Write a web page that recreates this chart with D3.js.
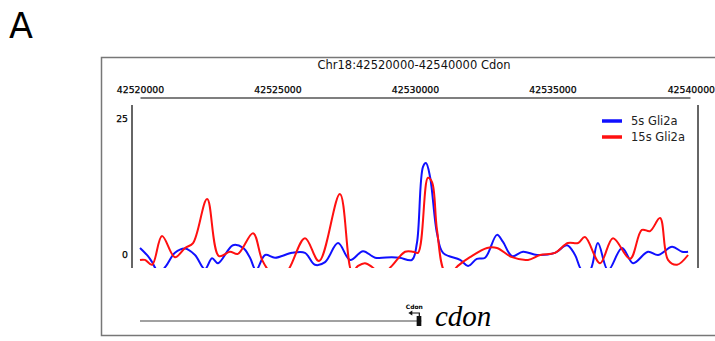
<!DOCTYPE html>
<html>
<head>
<meta charset="utf-8">
<script src="https://cdnjs.cloudflare.com/ajax/libs/d3/7.8.5/d3.min.js"></script>
<style>
  body { margin: 0; background: #fff; }
  svg { display: block; }
</style>
</head>
<body>
<svg id="chart" width="715" height="341"></svg>
<script>
// region + ticks
const regionStart = 42520000;
const regionEnd = 42540000;
const xTicks = [42520000, 42525000, 42530000, 42535000, 42540000];
const yTicks = [0, 25];

// 5s Gli2a (blue)
const pos5s = [42520000, 42520290, 42520440, 42520620, 42520800, 42520950, 42521270, 42521640,
  42522000, 42522360, 42522620, 42522840, 42523380, 42523750, 42524000, 42524220, 42524550,
  42524910, 42525530, 42526000, 42526360, 42526730, 42527200, 42527640, 42528110, 42528550,
  42529160, 42529450, 42529890, 42530070, 42530290, 42530400, 42530550, 42530800, 42531020,
  42531640, 42531930, 42532250, 42532550, 42532980, 42533200, 42533530, 42533930, 42534440,
  42535090, 42535530, 42535820, 42536070, 42536360, 42536650, 42537020, 42537530, 42537930,
  42538470, 42538840, 42539350, 42539710, 42539930];
const val5s = [1.3, -0.2, -1.3, -2.8, -2.8, -2.0, 0.4, 1.2,
  0.0, -2.6, -0.6, -1.5, 1.8, 1.3, -0.5, -2.8, 0.0,
  -0.5, 0.4, 0.4, -1.8, -1.3, 2.2, -0.9, 0.7, -0.5,
  -0.4, -0.5, -0.9, 2.2, 16.2, 16.9, 14.3, 4.0, 0.4,
  -0.9, -2.0, -0.7, -0.5, 3.7, 2.4, -0.2, 0.6, 0.0,
  0.4, 1.8, 0.0, -2.8, -2.8, 2.2, -2.8, 1.3, -1.5,
  0.6, 0.0, 1.5, 0.6, 0.6];

// 15s Gli2a (red)
const pos15s = [42520000, 42520180, 42520440, 42520800, 42521270, 42521640, 42521930, 42522440,
  42522870, 42523270, 42523560, 42524110, 42524440, 42524730, 42525090, 42525380, 42526000,
  42526510, 42527270, 42527710, 42527930, 42528180, 42528440, 42528650, 42528910, 42529160,
  42529640, 42529930, 42530110, 42530470, 42530620, 42530800, 42531090, 42531350, 42531560,
  42532000, 42532620, 42532980, 42533530, 42534110, 42534550, 42535090, 42535560, 42535930,
  42536180, 42536730, 42537200, 42537820, 42538250, 42538550, 42538910, 42539200, 42539530,
  42539930];
const val15s = [-0.9, -0.9, -1.8, 3.5, -0.4, 1.3, 2.2, 10.3,
  -0.2, 0.6, 0.2, 4.0, -0.9, -3.1, -3.7, -2.8, 3.1,
  -1.1, 11.2, -3.1, -2.0, -1.5, -2.2, -3.1, -3.1, -2.0,
  0.6, 0.6, 0.4, 14.2, 13.4, 4.6, -3.1, -3.1, -2.0,
  -0.4, 1.3, 1.3, -0.4, -0.9, 0.0, 0.4, 2.2, 2.2,
  3.3, -1.5, 3.1, -0.7, 4.6, 4.4, 6.8, -0.9, -1.8,
  0.0];

const seriesNames = ["5s Gli2a", "15s Gli2a"];
const seriesColors = ["#1010ff", "#ff1010"];

// gene model
const geneName = "Cdon";
const geneStart = 42520000;
const geneEnd = 42530230;
const exonStart = 42530060;

const svg = d3.select("#chart");
const font = "'DejaVu Sans', Verdana, sans-serif";

// panel letter
svg.append("text").attr("x", 9).attr("y", 38)
  .attr("font-family", font).attr("font-size", 35).text("A");

// outer frame
svg.append("rect").attr("x", 101.5).attr("y", 57.5)
  .attr("width", 640).attr("height", 278)
  .attr("fill", "none").attr("stroke", "#777").attr("stroke-width", 1.5);

svg.append("text").attr("x", 414).attr("y", 69)
  .attr("text-anchor", "middle").attr("font-family", font)
  .attr("font-size", 11.5).attr("fill", "#111")
  .text("Chr18:" + regionStart + "-" + regionEnd + " " + geneName);

const x = d3.scaleLinear().domain([regionStart, regionEnd]).range([140, 690]);
const y = d3.scaleLinear().domain([0, 25]).range([255, 119]);

// top coordinate axis
const xAxis = svg.append("g").attr("transform", "translate(0,97.5)")
  .call(d3.axisTop(x).tickValues(xTicks).tickSize(0).tickPadding(5).tickFormat(d3.format("d")));
xAxis.select(".domain").attr("stroke", "#555").attr("stroke-width", 1.5);
xAxis.selectAll("text").attr("font-family", font).attr("font-size", 9.3)
  .attr("fill", "#000").attr("stroke", "#000").attr("stroke-width", 0.25);
xAxis.selectAll(".tick:last-of-type text").attr("text-anchor", "end").attr("dx", "24.5");

// left y axis
const yAxis = svg.append("g").attr("transform", "translate(132,0)")
  .call(d3.axisLeft(y).tickValues(yTicks).tickSize(0).tickPadding(4));
yAxis.select(".domain").remove();
yAxis.selectAll("text").attr("font-family", font).attr("font-size", 9.3)
  .attr("fill", "#000").attr("stroke", "#000").attr("stroke-width", 0.25);
svg.append("line").attr("x1", 132).attr("x2", 132).attr("y1", 105).attr("y2", 268)
  .attr("stroke", "#666").attr("stroke-width", 2);
svg.append("line").attr("x1", 698).attr("x2", 698).attr("y1", 105).attr("y2", 268)
  .attr("stroke", "#666").attr("stroke-width", 2);

// plot clip
svg.append("clipPath").attr("id", "plotclip").append("rect")
  .attr("x", 133).attr("y", 105).attr("width", 564).attr("height", 163);

const line = d3.line()
  .x(d => x(d[0])).y(d => y(d[1]))
  .curve(d3.curveCatmullRom.alpha(0.5));

const series = [d3.zip(pos5s, val5s), d3.zip(pos15s, val15s)];
const plot = svg.append("g").attr("clip-path", "url(#plotclip)");
series.forEach((s, i) => {
  plot.append("path").datum(s)
    .attr("fill", "none").attr("stroke", seriesColors[i])
    .attr("stroke-width", 2).attr("stroke-linejoin", "round")
    .attr("d", line);
});

// legend
const legend = svg.append("g").attr("transform", "translate(602,121)");
seriesNames.forEach((n, i) => {
  const g = legend.append("g").attr("transform", "translate(0," + i * 16 + ")");
  g.append("line").attr("x1", 0).attr("x2", 20)
    .attr("stroke", seriesColors[i]).attr("stroke-width", 3.5);
  g.append("text").attr("x", 29).attr("dy", "0.35em")
    .attr("font-family", font).attr("font-size", 11.5).attr("fill", "#222").text(n);
});

// gene track
const gy = 321;
svg.append("line").attr("x1", x(geneStart)).attr("x2", x(geneEnd))
  .attr("y1", gy).attr("y2", gy).attr("stroke", "#444").attr("stroke-width", 1.2);
svg.append("rect").attr("x", x(exonStart)).attr("y", gy - 5)
  .attr("width", x(geneEnd) - x(exonStart)).attr("height", 10).attr("fill", "#111");
// strand arrow (minus strand)
const ax = x(geneEnd) - 2;
svg.append("path")
  .attr("d", `M${ax},${gy - 5} L${ax},${gy - 8} L${ax - 8},${gy - 8}`)
  .attr("fill", "none").attr("stroke", "#111").attr("stroke-width", 1.2);
svg.append("path")
  .attr("d", `M${ax - 11},${gy - 8} L${ax - 7},${gy - 10.5} L${ax - 7},${gy - 5.5} Z`)
  .attr("fill", "#111");
svg.append("text").attr("x", ax - 5).attr("y", gy - 12)
  .attr("text-anchor", "middle").attr("font-family", font)
  .attr("font-size", 6).attr("font-weight", "bold").text(geneName);
svg.append("text").attr("x", 435).attr("y", 326)
  .attr("font-family", "'Liberation Serif', 'Times New Roman', serif")
  .attr("font-style", "italic").attr("font-size", 29).text(geneName.toLowerCase());
</script>
</body>
</html>
